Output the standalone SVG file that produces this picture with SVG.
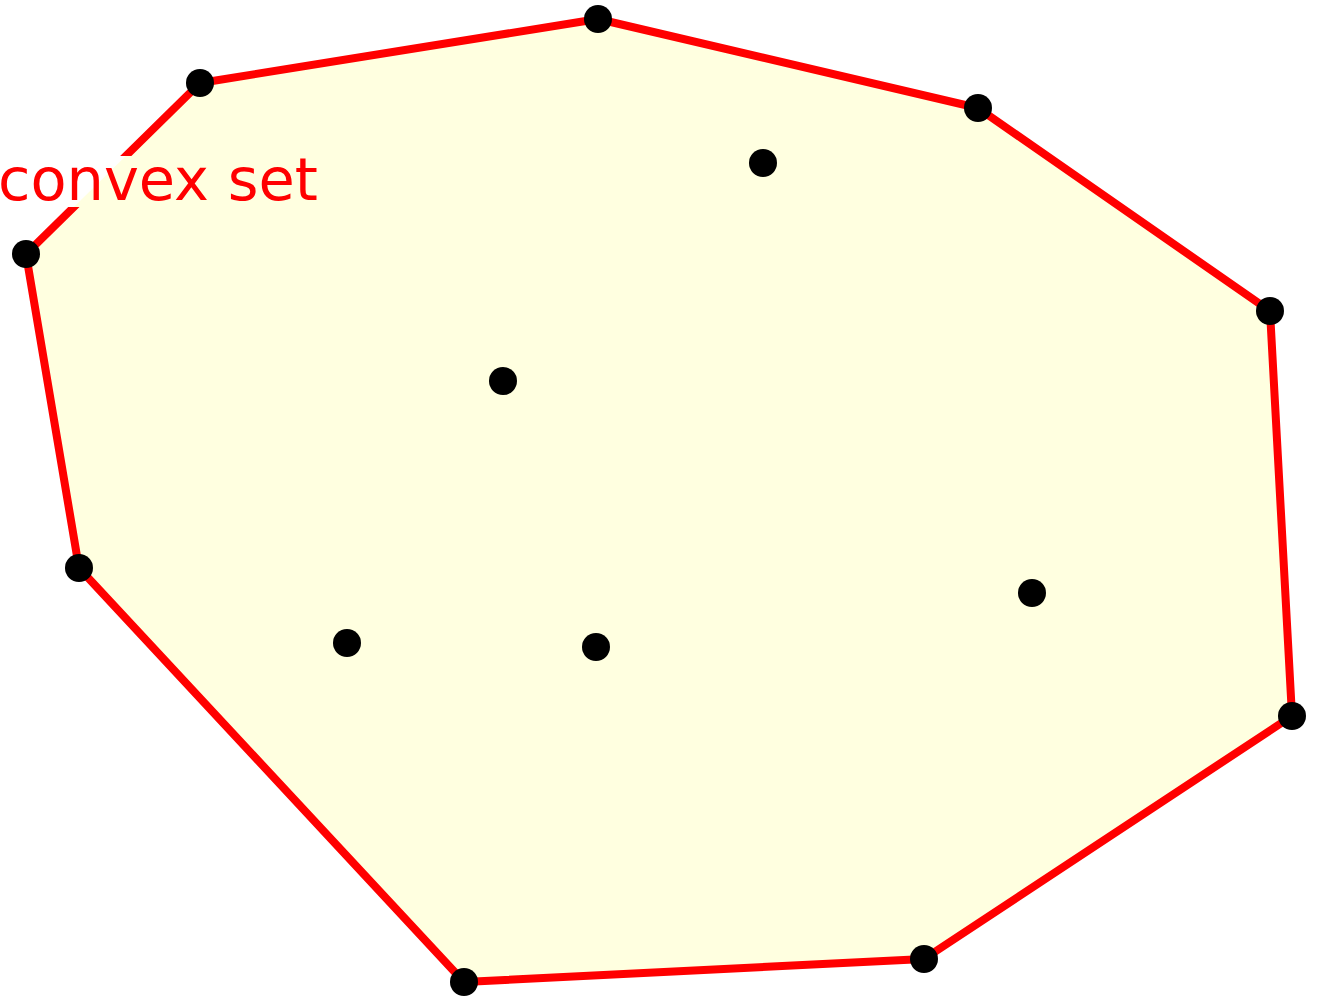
<svg xmlns="http://www.w3.org/2000/svg" width="1319" height="997" viewBox="0 0 1319 997">
<style>
.hullfill{fill:#ffffe0;stroke:none}
.hull{fill:none;stroke:#ff0000;stroke-width:8;stroke-linejoin:round}
.pt{fill:#000000}
.lbl{font-family:"DejaVu Sans",sans-serif;font-size:59px;fill:#ff0000}
</style>
<defs>
<mask id="lblmask" maskUnits="userSpaceOnUse" x="0" y="0" width="1319" height="997">
<rect x="0" y="0" width="1319" height="997" fill="#fff"/>
<rect x="0" y="156" width="325" height="51" fill="#000"/>
</mask>
</defs>
<g id="hull">
<polygon class="hullfill" points="598,19 978,108 1270,311 1292,716 924,959 464,982 79,568 26,254 200,83"/>
</g>
<g id="connectors" mask="url(#lblmask)">
<polygon class="hull" points="598,19 978,108 1270,311 1292,716 924,959 464,982 79,568 26,254 200,83"/>
</g>
<g id="points">
<circle class="pt" cx="598" cy="19" r="14"/>
<circle class="pt" cx="978" cy="108" r="14"/>
<circle class="pt" cx="1270" cy="311" r="14"/>
<circle class="pt" cx="1292" cy="716" r="14"/>
<circle class="pt" cx="924" cy="959" r="14"/>
<circle class="pt" cx="464" cy="982" r="14"/>
<circle class="pt" cx="79" cy="568" r="14"/>
<circle class="pt" cx="26" cy="254" r="14"/>
<circle class="pt" cx="200" cy="83" r="14"/>
<circle class="pt" cx="763" cy="163" r="14"/>
<circle class="pt" cx="503" cy="381" r="14"/>
<circle class="pt" cx="1032" cy="593" r="14"/>
<circle class="pt" cx="596" cy="647" r="14"/>
<circle class="pt" cx="347" cy="643" r="14"/>
</g>
<g id="label">
<text class="lbl" x="-2" y="200">convex set</text>
</g>
</svg>
